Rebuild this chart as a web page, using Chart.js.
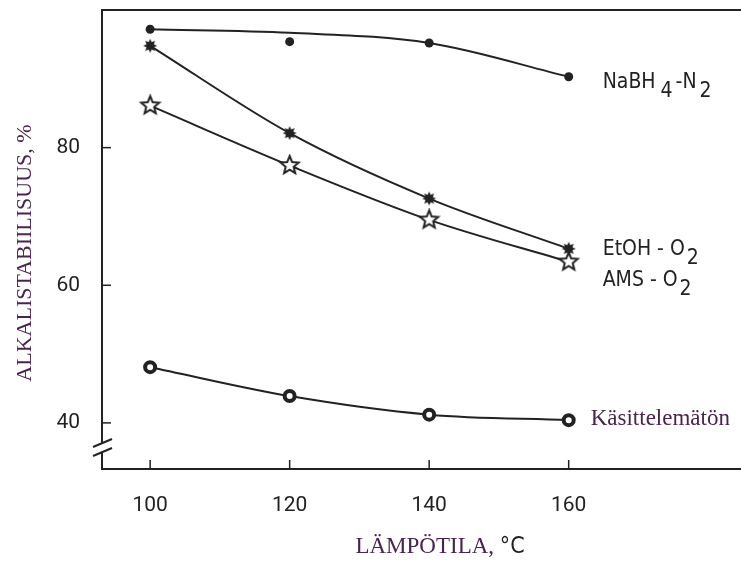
<!DOCTYPE html>
<html>
<head>
<meta charset="utf-8">
<script src="https://cdn.jsdelivr.net/npm/chart.js@4"></script>
<style>
  html, body { margin: 0; padding: 0; background: #fff; overflow: hidden; }
  canvas { display: block; }
</style>
</head>
<body>
<canvas id="myChart" width="741" height="561"></canvas>
<script>
// data
var temps = [100, 120, 140, 160];
var xTicks = [100, 120, 140, 160];
var yTicks = [40, 60, 80];

var nabh4Points = [97.2, 95.4, 95.2, 90.3];
var nabh4Curve = [97.2, 96.7, 95.2, 90.3];
var etohPoints = [94.8, 82.1, 72.6, 65.3];
var amsPoints = [86.1, 77.4, 69.5, 63.4];
var untreatedPoints = [48.1, 43.9, 41.2, 40.4];

var ink = '#222';
var purple = '#4b2350';
var sans = '"DejaVu Sans Condensed", Roboto, sans-serif';
var serif = '"Liberation Serif", "DejaVu Serif", serif';

function xy(vals) {
  return temps.map(function (t, i) { return { x: t, y: vals[i] }; });
}

function starImage(n, rOut, rIn, fill, stroke) {
  var size = Math.ceil(rOut * 2 + 4);
  var c = document.createElement('canvas');
  c.width = size; c.height = size;
  var g = c.getContext('2d');
  g.translate(size / 2, size / 2);
  g.beginPath();
  for (var i = 0; i < n * 2; i++) {
    var r = i % 2 == 0 ? rOut : rIn;
    var a = -Math.PI / 2 + i * Math.PI / n;
    if (i == 0) g.moveTo(r * Math.cos(a), r * Math.sin(a));
    else g.lineTo(r * Math.cos(a), r * Math.sin(a));
  }
  g.closePath();
  g.fillStyle = fill;
  g.fill();
  if (stroke) {
    g.lineWidth = 2;
    g.strokeStyle = stroke;
    g.stroke();
  }
  return c;
}

var burst = starImage(8, 7, 4, ink, null);
var hollowStar = starImage(5, 9.5, 4.2, '#fff', ink);

function lineSet(vals) {
  return {
    data: xy(vals),
    borderColor: ink,
    borderWidth: 2,
    pointRadius: 0,
    cubicInterpolationMode: 'monotone',
    fill: false,
    order: 2
  };
}

function markSet(vals, style, radius, bg, bw) {
  return {
    data: xy(vals),
    showLine: false,
    pointStyle: style,
    pointRadius: radius,
    pointBackgroundColor: bg,
    pointBorderColor: ink,
    pointBorderWidth: bw,
    order: 1
  };
}

function drawParts(ctx, x, y, parts, size) {
  parts.forEach(function (p) {
    ctx.font = size + 'px ' + sans;
    ctx.fillText(p[0], x, y + p[1]);
    x += ctx.measureText(p[0]).width + (p[2] || 0);
  });
}

function noPad(s) {
  s.paddingTop = 0; s.paddingBottom = 0; s.paddingLeft = 0; s.paddingRight = 0;
}

var decor = {
  id: 'decor',
  afterDraw: function (chart) {
    var ctx = chart.ctx;
    var a = chart.chartArea;
    var xs = chart.scales.x, ys = chart.scales.y;
    ctx.save();
    ctx.strokeStyle = ink;
    ctx.lineWidth = 2;
    // top frame line
    ctx.beginPath();
    ctx.moveTo(a.left, a.top);
    ctx.lineTo(a.right, a.top);
    ctx.stroke();
    // inner ticks
    ctx.lineWidth = 1.5;
    xTicks.forEach(function (v) {
      var px = xs.getPixelForValue(v);
      ctx.beginPath();
      ctx.moveTo(px, a.bottom);
      ctx.lineTo(px, a.bottom - 9);
      ctx.stroke();
    });
    yTicks.forEach(function (v) {
      var py = ys.getPixelForValue(v);
      ctx.beginPath();
      ctx.moveTo(a.left, py);
      ctx.lineTo(a.left + 9, py);
      ctx.stroke();
    });
    // axis break
    var by = ys.getPixelForValue(36.5);
    ctx.fillStyle = '#fff';
    ctx.fillRect(a.left - 2, by - 4, 4, 9);
    ctx.lineWidth = 2;
    [-4, 5].forEach(function (d) {
      ctx.beginPath();
      ctx.moveTo(a.left - 9, by + d + 4);
      ctx.lineTo(a.left + 10, by + d - 4);
      ctx.stroke();
    });

    // series labels
    var lx = xs.getPixelForValue(160) + 34;
    ctx.fillStyle = ink;
    ctx.textAlign = 'left';
    ctx.textBaseline = 'alphabetic';
    drawParts(ctx, lx, ys.getPixelForValue(nabh4Points[3]) + 11,
      [['NaBH', 0, 5], ['4', 9, 3], ['-N', 0, 3], ['2', 9]], 21);
    drawParts(ctx, lx, ys.getPixelForValue(etohPoints[3]) + 6,
      [['EtOH - O', 0, 2], ['2', 9]], 21);
    drawParts(ctx, lx, ys.getPixelForValue(amsPoints[3]) + 24,
      [['AMS - O', 0, 2], ['2', 9]], 21);
    ctx.fillStyle = purple;
    ctx.font = '23px ' + serif;
    ctx.fillText('Käsittelemätön', xs.getPixelForValue(160) + 22,
      ys.getPixelForValue(untreatedPoints[3]) + 5);

    // axis titles
    ctx.font = '23px ' + serif;
    var t1 = 'LÄMPÖTILA, ';
    var w1 = ctx.measureText(t1).width;
    ctx.font = '23px ' + sans;
    var w2 = ctx.measureText('°C').width;
    var sx = 440 - (w1 + w2) / 2;
    ctx.font = '23px ' + serif;
    ctx.fillText(t1, sx, 553);
    ctx.fillStyle = ink;
    ctx.font = '23px ' + sans;
    ctx.fillText('°C', sx + w1, 553);

    ctx.translate(31, 253);
    ctx.rotate(-Math.PI / 2);
    ctx.textAlign = 'center';
    ctx.fillStyle = purple;
    ctx.font = '22px ' + serif;
    ctx.fillText('ALKALISTABIILISUUS, %', 0, 0);
    ctx.restore();
  }
};

new Chart(document.getElementById('myChart'), {
  type: 'line',
  data: {
    datasets: [
      lineSet(nabh4Curve),
      lineSet(etohPoints),
      lineSet(amsPoints),
      lineSet(untreatedPoints),
      markSet(nabh4Points, 'circle', 4.5, ink, 0),
      markSet(etohPoints, burst, 7, ink, 0),
      markSet(amsPoints, hollowStar, 9, '#fff', 0),
      markSet(untreatedPoints, 'circle', 5, '#fff', 4)
    ]
  },
  options: {
    responsive: false,
    animation: false,
    layout: { autoPadding: false, padding: { top: 10, right: 0, left: 0, bottom: 0 } },
    plugins: { legend: { display: false }, tooltip: { enabled: false } },
    scales: {
      x: {
        type: 'linear',
        min: 93.1,
        max: 184.7,
        afterBuildTicks: function (s) { s.ticks = xTicks.map(function (v) { return { value: v }; }); },
        afterFit: function (s) { s.height = 92; noPad(s); },
        grid: { display: false, drawTicks: false },
        border: { display: true, color: ink, width: 2 },
        ticks: { color: ink, padding: 24, font: { family: 'Roboto', size: 21 }, maxRotation: 0 }
      },
      y: {
        min: 33.3,
        max: 100,
        afterBuildTicks: function (s) { s.ticks = yTicks.map(function (v) { return { value: v }; }); },
        afterFit: function (s) { s.width = 102; noPad(s); },
        grid: { display: false, drawTicks: false },
        border: { display: true, color: ink, width: 2 },
        ticks: { color: ink, padding: 22, font: { family: 'Roboto', size: 21 } }
      }
    }
  },
  plugins: [decor]
});
</script>
</body>
</html>
